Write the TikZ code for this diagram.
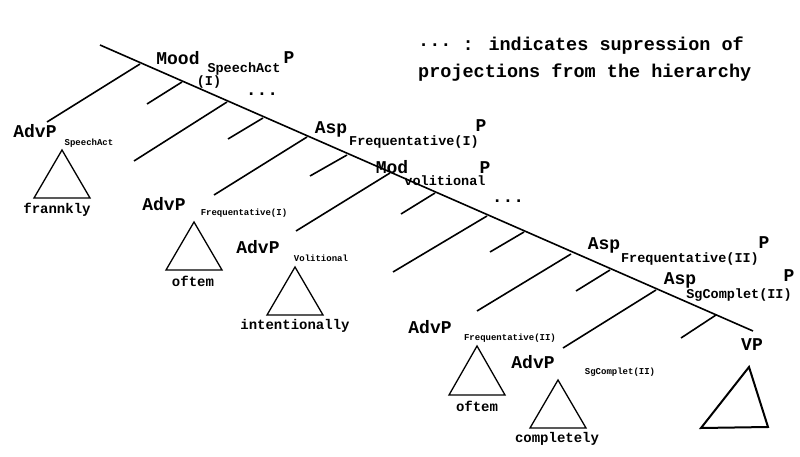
\documentclass[tikz,border=0pt]{standalone}
\usepackage{fontspec}
\setmainfont{Liberation Mono}
\usetikzlibrary{positioning}
\tikzstyle{branch} = [line width=1.6pt]
\tikzstyle{tri} = [line width=1.3pt, line join=miter]
\tikzstyle{cat} = [font=\bfseries\fontsize{18}{18}\selectfont, inner sep=0pt]
\tikzstyle{sub} = [font=\bfseries\fontsize{13.5}{14}\selectfont, inner sep=0pt]
\tikzstyle{tiny} = [font=\bfseries\fontsize{9}{9}\selectfont, inner sep=0pt]
\tikzstyle{word} = [font=\bfseries\fontsize{14}{14}\selectfont, inner sep=0pt]
\tikzstyle{note} = [font=\bfseries\fontsize{18.5}{19}\selectfont, inner sep=0pt, anchor=west]

\begin{document}
\begin{tikzpicture}[x=1pt, y=-1pt]
\useasboundingbox (0,0) rectangle (800,457);

% spine
\coordinate (top) at (100,45);
\coordinate (bot) at (753,331);
\draw [branch] (top) -- (bot);

% branch points and leaves
\foreach \bx/\by/\ex/\ey [count=\i] in {140/64/47/122, 182/82/147/104, 227/102/134/161,
  263/118/228/139, 307/137/214/195, 347/155/310/176, 390/173/296/231, 435/193/401/214,
  487/216/393/272, 524/232/490/252, 571/254/477/311, 610/270/576/291, 656/290/563/348,
  716/315/681/338}
{
  \coordinate (b\i) at (\bx,\by);
  \coordinate (e\i) at (\ex,\ey);
  \draw [branch] (b\i) -- (e\i);
}

% projections
\node (mood) [cat] at (178,58) {Mood};
\node (moodsub) [sub] at (244,69) {SpeechAct};
\node (moodp) [cat] at (289,58) {P};
\node (moodi) [sub] at (209,82) {(I)};
\node (dots1) [cat] at (262,94) {...};
\node (asp1) [cat] at (331,129) {Asp};
\node (asp1sub) [sub] at (414,142) {Frequentative(I)};
\node (asp1p) [cat] at (481,126) {P};
\node (mod) [cat] at (392,167) {Mod};
\node (modsub) [sub] at (445,181) {volitional};
\node (modp) [cat] at (485,168) {P};
\node (dots2) [cat] at (508,201) {...};
\node (asp2) [cat] at (604,245) {Asp};
\node (asp2sub) [sub] at (690,259) {Frequentative(II)};
\node (asp2p) [cat] at (764,243) {P};
\node (asp3) [cat] at (680,280) {Asp};
\node (asp3sub) [sub] at (739,295) {SgComplet(II)};
\node (asp3p) [cat] at (789,276) {P};

% specifiers
\node (adv1) [cat] at (35,131) {AdvP};
\node (adv1sub) [tiny] at (89,143) {SpeechAct};
\draw [tri] (62,150) -- (34,198) -- (90,198) -- cycle;
\node (w1) [word] at (57,210) {frannkly};

\node (adv2) [cat] at (164,204) {AdvP};
\node (adv2sub) [tiny] at (244,213) {Frequentative(I)};
\draw [tri] (194,222) -- (166,270) -- (222,270) -- cycle;
\node (w2) [word] at (193,281) {oftem};

\node (adv3) [cat] at (258,247) {AdvP};
\node (adv3sub) [tiny] at (321,258) {Volitional};
\draw [tri] (295,267) -- (267,315) -- (323,315) -- cycle;
\node (w3) [word] at (295,326) {intentionally};

\node (adv4) [cat] at (430,327) {AdvP};
\node (adv4sub) [tiny] at (510,338) {Frequentative(II)};
\draw [tri] (477,346) -- (449,395) -- (505,395) -- cycle;
\node (w4) [word] at (477,406) {oftem};

\node (adv5) [cat] at (533,362) {AdvP};
\node (adv5sub) [tiny] at (620,372) {SgComplet(II)};
\draw [tri] (558,380) -- (530,428) -- (586,428) -- cycle;
\node (w5) [word] at (557,439) {completely};

\node (vp) [cat] at (752,345) {VP};
\draw [tri, line width=2pt] (749,367) -- (701,428) -- (768,427) -- cycle;

% legend
\node (note1) [note] at (418,46) {\raisebox{4pt}{...} : indicates supression of};
\node (note2) [note] at (418,73) {projections from the hierarchy};
\end{tikzpicture}
\end{document}
